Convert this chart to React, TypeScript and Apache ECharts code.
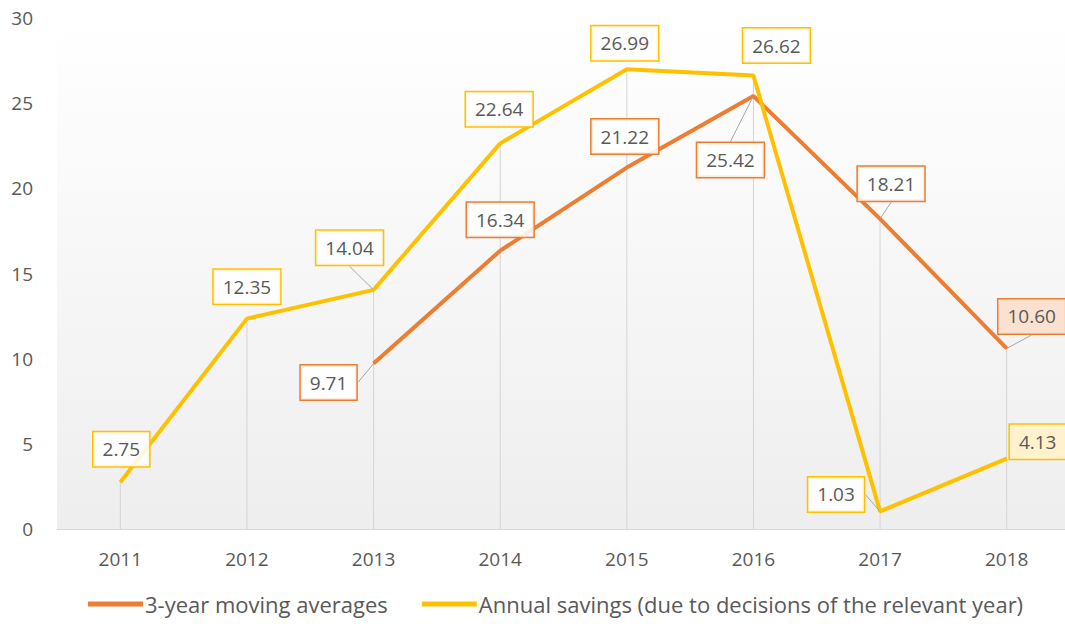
import React, { useEffect, useRef } from "react";
import * as echarts from "echarts";

const years = ["2011", "2012", "2013", "2014", "2015", "2016", "2017", "2018"];
const movingAvg: (number | null)[] = [null, null, 9.71, 16.34, 21.22, 25.42, 18.21, 10.6];
const annualSavings: number[] = [2.75, 12.35, 14.04, 22.64, 26.99, 26.62, 1.03, 4.13];
const seriesNames = ["3-year moving averages", "Annual savings (due to decisions of the relevant year)"];

// label placement (style only): offsets of label centre from point, in px
const avgLabelOffsets = [[0, 0], [0, 0], [-45, 19], [0, -31], [-2, -31], [-23, 64], [11, -35], [25, -32]];
const savLabelOffsets = [[1, -33], [0, -32], [-24, -42], [-1, -34], [-2, -26], [23, -30], [-44, -17], [31, -17]];
const avgLeader = [false, false, true, false, false, true, true, true];
const savLeader = [false, false, true, false, false, false, true, false];

const ORANGE = "#ED7D31";
const YELLOW = "#FFC000";
const TEXT = "#595959";
const FONT = "Open Sans";

export default function App() {
  const ref = useRef<HTMLDivElement>(null);
  useEffect(() => {
    if (!ref.current) return;
    const chart = echarts.init(ref.current, null, { renderer: "svg" });
    const dropMax = years.map((_, i) => Math.max(annualSavings[i], movingAvg[i] ?? -Infinity));

    const labelBase = {
      show: true,
      position: "inside",
      color: TEXT,
      fontSize: 19,
      fontFamily: FONT,
      padding: [8, 9, 7, 9],
      backgroundColor: "rgba(255,255,255,0.85)",
      borderWidth: 1.5,
      formatter: (p: any) => Number(p.value).toFixed(2),
    };

    const avgData = movingAvg.map((v, i) =>
      v == null
        ? null
        : {
            value: v,
            labelLine: { show: avgLeader[i] },
            label: i === 7 ? { backgroundColor: "#FBE1D0" } : {},
          }
    );
    const savData = annualSavings.map((v, i) => ({
      value: v,
      labelLine: { show: savLeader[i] },
      label: i === 7 ? { backgroundColor: "#FFF2CC" } : {},
    }));

    chart.setOption({
      animation: false,
      textStyle: { fontFamily: FONT },
      grid: {
        left: 57,
        top: 18,
        width: 1013,
        bottom: 95,
        show: true,
        borderWidth: 0,
        backgroundColor: {
          type: "linear",
          x: 0,
          y: 0,
          x2: 0,
          y2: 1,
          colorStops: [
            { offset: 0, color: "#ffffff" },
            { offset: 1, color: "#eeeeee" },
          ],
        },
      },
      legend: {
        data: seriesNames,
        bottom: 4,
        left: 83,
        icon: "rect",
        itemWidth: 55,
        itemHeight: 5,
        itemGap: 34,
        textStyle: { color: TEXT, fontSize: 22, fontFamily: FONT, padding: [0, 0, 0, -3] },
      },
      xAxis: {
        type: "category",
        data: years,
        boundaryGap: true,
        axisLine: { show: true, lineStyle: { color: "#d9d9d9", width: 1 } },
        axisTick: { show: false },
        axisLabel: { color: TEXT, fontSize: 19, fontFamily: FONT, margin: 20 },
        splitLine: { show: false },
      },
      yAxis: {
        type: "value",
        min: 0,
        max: 30,
        interval: 5,
        axisLine: { show: false },
        axisTick: { show: false },
        splitLine: { show: false },
        axisLabel: { color: TEXT, fontSize: 19, fontFamily: FONT, margin: 24 },
      },
      series: [
        {
          type: "bar",
          name: "drop",
          data: dropMax,
          barWidth: 1,
          itemStyle: { color: "#d4d4d4" },
          silent: true,
          z: 1,
        },
        {
          type: "line",
          name: seriesNames[0],
          data: avgData,
          connectNulls: false,
          symbol: "circle",
          symbolSize: 1,
          showSymbol: true,
          itemStyle: { color: ORANGE },
          lineStyle: { color: ORANGE, width: 4 },
          z: 3,
          label: { ...labelBase, borderColor: ORANGE },
          labelLine: { show: false, lineStyle: { color: "#a6a6a6", width: 1 } },
          labelLayout: (p: any) => ({
            dx: avgLabelOffsets[p.dataIndex][0],
            dy: avgLabelOffsets[p.dataIndex][1],
            hideOverlap: false,
          }),
        },
        {
          type: "line",
          name: seriesNames[1],
          data: savData,
          symbol: "circle",
          symbolSize: 1,
          showSymbol: true,
          itemStyle: { color: YELLOW },
          lineStyle: { color: YELLOW, width: 4 },
          z: 4,
          label: { ...labelBase, borderColor: YELLOW },
          labelLine: { show: false, lineStyle: { color: "#a6a6a6", width: 1 } },
          labelLayout: (p: any) => ({
            dx: savLabelOffsets[p.dataIndex][0],
            dy: savLabelOffsets[p.dataIndex][1],
            hideOverlap: false,
          }),
        },
      ],
    });
    return () => chart.dispose();
  }, []);

  return (
    <div style={{ position: "absolute", left: 0, top: 0, width: 1065, height: 624, overflow: "hidden", background: "#ffffff" }}>
      <div ref={ref} style={{ width: 1080, height: 624 }} />
    </div>
  );
}
